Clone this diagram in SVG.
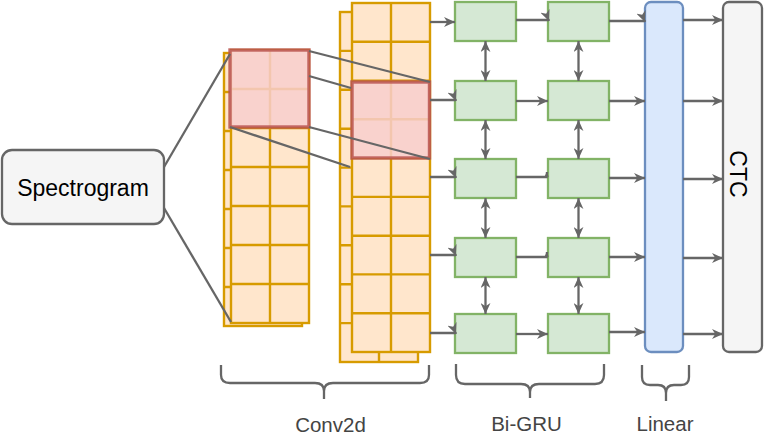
<svg xmlns="http://www.w3.org/2000/svg" width="764" height="443" viewBox="0 0 764 443">
<defs>
<style>
.grid{fill:#ffe6cc;stroke:#d79b00;stroke-width:2.4}
.gl{fill:none;stroke:#d79b00;stroke-width:2.4}
.red{fill:#f8cecc;fill-opacity:0.85;stroke:#b85450;stroke-opacity:0.85;stroke-width:3.4}
.gru{fill:#d5e8d4;stroke:#82b366;stroke-width:2.3}
.edge{fill:none;stroke:#666666;stroke-width:2.3}
.brace{fill:none;stroke:#666666;stroke-width:2.3}
.lbl{font-family:"Liberation Sans",Arial,sans-serif;font-size:20.5px;fill:#444444;text-anchor:middle}
.ntxt{font-family:"Liberation Sans",Arial,sans-serif;font-size:23px;fill:#000000;text-anchor:middle}
</style>
<marker id="arr" viewBox="0 0 10 9" refX="10" refY="4.5" markerWidth="11" markerHeight="10" markerUnits="userSpaceOnUse" orient="auto-start-reverse">
<path d="M0,0 L10,4.5 L0,9 L3,4.5 z" fill="#666666"/>
</marker>
<marker id="arrs" viewBox="0 0 10 9" refX="10" refY="4.5" markerWidth="5" markerHeight="4.5" markerUnits="userSpaceOnUse" orient="auto">
<path d="M0,0 L10,4.5 L0,9 L3,4.5 z" fill="#666666"/>
</marker>
</defs>

<g id="spectrogram">
<rect x="2" y="150" width="162" height="74" rx="10" fill="#f5f5f5" stroke="#666666" stroke-width="2.3"/>
<text class="ntxt" x="83" y="196">Spectrogram</text>
</g>

<g id="conv-layer1">
<rect class="grid" x="224" y="53" width="78" height="273"/>
<path class="gl" d="M224,92H302M224,131H302M224,170H302M224,209H302M224,248H302M224,287H302"/>
<rect class="grid" x="231" y="50" width="78" height="273"/>
<path class="gl" d="M270,50V323M231,89H309M231,128H309M231,167H309M231,206H309M231,245H309M231,284H309"/>
</g>

<g id="conv-layer2">
<rect class="grid" x="340" y="12" width="78" height="350"/>
<path class="gl" d="M379,12V362M340,50.9H418M340,89.8H418M340,128.7H418M340,167.6H418M340,206.4H418M340,245.3H418M340,284.2H418M340,323.1H418"/>
<rect class="grid" x="352" y="3" width="78" height="349"/>
<path class="gl" d="M391,3V352M352,41.8H430M352,80.6H430M352,119.3H430M352,158.1H430M352,196.9H430M352,235.7H430M352,274.4H430M352,313.2H430"/>
</g>

<g id="kernel1"><rect class="red" x="230" y="50" width="79" height="77"/></g>
<g id="kernel2"><rect class="red" x="352" y="82" width="77.5" height="76"/></g>

<g id="gru-1-1"><rect class="gru" x="455" y="2" width="61" height="39"/></g>
<g id="gru-1-2"><rect class="gru" x="548" y="2" width="61" height="39"/></g>
<g id="gru-2-1"><rect class="gru" x="455" y="81" width="61" height="39"/></g>
<g id="gru-2-2"><rect class="gru" x="548" y="81" width="61" height="39"/></g>
<g id="gru-3-1"><rect class="gru" x="455" y="159" width="61" height="39"/></g>
<g id="gru-3-2"><rect class="gru" x="548" y="159" width="61" height="39"/></g>
<g id="gru-4-1"><rect class="gru" x="455" y="238" width="61" height="39"/></g>
<g id="gru-4-2"><rect class="gru" x="548" y="238" width="61" height="39"/></g>
<g id="gru-5-1"><rect class="gru" x="455" y="314" width="61" height="39"/></g>
<g id="gru-5-2"><rect class="gru" x="548" y="314" width="61" height="39"/></g>

<g id="linear"><rect x="645" y="2" width="38" height="350" rx="6" fill="#dae8fc" stroke="#6c8ebf" stroke-width="2.3"/></g>
<g id="ctc">
<rect x="723" y="2" width="39" height="350" rx="6" fill="#f5f5f5" stroke="#666666" stroke-width="2.3"/>
<text class="ntxt" transform="translate(730,174) rotate(90)" x="0" y="0">CTC</text>
</g>

<g id="connectors">
<path class="edge" d="M164,167L230,54"/>
<path class="edge" d="M164,208L231,322"/>
<path class="edge" d="M309,51L430,82"/>
<path class="edge" d="M309,76L351,88"/>
<path class="edge" d="M230,127L350,167"/>
<path class="edge" d="M309,127L430,159"/>

<path class="edge" d="M430,22H455" marker-end="url(#arr)"/>
<path class="edge" d="M430,100H455.6L456,101" marker-end="url(#arr)"/>
<path class="edge" d="M430,177H455.6L456,178" marker-end="url(#arr)"/>
<path class="edge" d="M430,255H455.6L456,256" marker-end="url(#arr)"/>
<path class="edge" d="M430,333H455.6L456,334" marker-end="url(#arr)"/>

<path class="edge" d="M516,20H548.6L549,21" marker-end="url(#arr)"/>
<path class="edge" d="M516,101H548" marker-end="url(#arr)"/>
<path class="edge" d="M516,177H546.6L547,172" marker-end="url(#arrs)"/>
<path class="edge" d="M516,257H546.6L547,252" marker-end="url(#arrs)"/>
<path class="edge" d="M516,334H548" marker-end="url(#arr)"/>

<path class="edge" d="M609,21H644.6L645,22" marker-end="url(#arr)"/>
<path class="edge" d="M609,101H645" marker-end="url(#arr)"/>
<path class="edge" d="M609,178H645" marker-end="url(#arr)"/>
<path class="edge" d="M609,257H645" marker-end="url(#arr)"/>
<path class="edge" d="M609,332H645" marker-end="url(#arr)"/>

<path class="edge" d="M683,20H723" marker-end="url(#arr)"/>
<path class="edge" d="M683,101H723" marker-end="url(#arr)"/>
<path class="edge" d="M683,179H723" marker-end="url(#arr)"/>
<path class="edge" d="M683,258H723" marker-end="url(#arr)"/>
<path class="edge" d="M683,334H723" marker-end="url(#arr)"/>

<path class="edge" d="M485.5,41V81" marker-start="url(#arr)" marker-end="url(#arr)"/>
<path class="edge" d="M485.5,120V159" marker-start="url(#arr)" marker-end="url(#arr)"/>
<path class="edge" d="M485.5,198V238" marker-start="url(#arr)" marker-end="url(#arr)"/>
<path class="edge" d="M485.5,277V314" marker-start="url(#arr)" marker-end="url(#arr)"/>
<path class="edge" d="M578.5,41V81" marker-start="url(#arr)" marker-end="url(#arr)"/>
<path class="edge" d="M578.5,120V159" marker-start="url(#arr)" marker-end="url(#arr)"/>
<path class="edge" d="M578.5,198V238" marker-start="url(#arr)" marker-end="url(#arr)"/>
<path class="edge" d="M578.5,277V314" marker-start="url(#arr)" marker-end="url(#arr)"/>
</g>

<g id="brace-conv2d">
<path class="brace" d="M221,365V375Q221,383 230,383H315Q324,383 324,391Q324,383 333,383H420Q429,383 429,375V365M324,391V399"/>
<text class="lbl" x="330.5" y="432">Conv2d</text>
</g>
<g id="brace-bigru">
<path class="brace" d="M456,364V375Q456,384 465,384H521Q530,384 530,392Q530,384 539,384H595Q604,384 604,375V364M530,392V398"/>
<text class="lbl" x="526.5" y="431">Bi-GRU</text>
</g>
<g id="brace-linear">
<path class="brace" d="M642,365V377Q642,385 650,385H658Q666,385 666,393Q666,385 674,385H681Q689,385 689,377V365M666,393V401"/>
<text class="lbl" x="665" y="431">Linear</text>
</g>
</svg>
